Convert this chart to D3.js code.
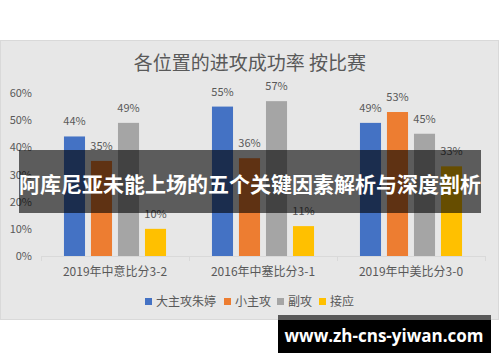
<!DOCTYPE html>
<html>
<head>
<meta charset="utf-8">
<script src="https://cdn.jsdelivr.net/npm/d3@7"></script>
<style>
body { margin: 0; background: #fff; }
svg text { font-family: "Noto Sans CJK SC", "Noto Sans", sans-serif; }
</style>
</head>
<body>
<div id="chart"></div>
<script>
var title = "各位置的进攻成功率 按比赛";
var matches = ["2019年中意比分3-2", "2016年中塞比分3-1", "2019年中美比分3-0"];
var positions = ["大主攻朱婷", "小主攻", "副攻", "接应"];
var colors = ["#4472c4", "#ed7d31", "#a5a5a5", "#ffc000"];
// one array per position, one value per match
var mainHitter = [0.44, 0.55, 0.49];
var sideHitter = [0.35, 0.36, 0.53];
var middle = [0.49, 0.57, 0.45];
var opposite = [0.10, 0.11, 0.33];
var yTicks = [0, 0.1, 0.2, 0.3, 0.4, 0.5, 0.6];
var banner = "阿库尼亚未能上场的五个关键因素解析与深度剖析";
var site = "www.zh-cns-yiwan.com";

var series = [mainHitter, sideHitter, middle, opposite];
var W = 500, H = 362;

var svg = d3.select("#chart").append("svg")
    .attr("width", W).attr("height", H);

// chart panel
svg.append("rect")
    .attr("x", 0.5).attr("y", 40.5)
    .attr("width", 498).attr("height", 279)
    .attr("fill", "#e7e7e7")
    .attr("stroke", "#d9d9d9");

svg.append("text")
    .attr("x", 250).attr("y", 63)
    .attr("dy", "0.35em")
    .attr("text-anchor", "middle")
    .attr("font-size", 19)
    .attr("fill", "#595959")
    .text(title);

var x0 = d3.scaleBand().domain(matches).range([41, 485]);
var x1 = d3.scaleBand().domain(d3.range(positions.length))
    .range([0, x0.bandwidth()])
    .paddingInner(0.22).paddingOuter(0.85);
var y = d3.scaleLinear().domain([0, 0.6]).range([256, 93]);

// y axis labels
var yAxis = d3.axisLeft(y).tickValues(yTicks).tickFormat(d3.format(".0%")).tickSize(0).tickPadding(0);
var gy = svg.append("g").attr("transform", "translate(32,0)").call(yAxis);
gy.select(".domain").remove();
gy.selectAll("text").attr("font-size", 11).attr("fill", "#595959")
    .style("font-family", "\"Noto Sans CJK SC\", sans-serif");

// bars
var groups = svg.selectAll("g.match").data(matches).enter().append("g")
    .attr("class", "match")
    .attr("transform", function(d){ return "translate(" + x0(d) + ",0)"; });

groups.each(function(m, mi){
    var g = d3.select(this);
    var rows = series.map(function(s, si){ return {si: si, v: s[mi]}; });
    g.selectAll("rect").data(rows).enter().append("rect")
        .attr("x", function(d){ return x1(d.si); })
        .attr("y", function(d){ return y(d.v); })
        .attr("width", x1.bandwidth())
        .attr("height", function(d){ return y(0) - y(d.v); })
        .attr("fill", function(d){ return colors[d.si]; });
    g.selectAll("text").data(rows).enter().append("text")
        .attr("x", function(d){ return x1(d.si) + x1.bandwidth() / 2; })
        .attr("y", function(d){ return y(d.v) - 11; })
        .attr("text-anchor", "middle")
        .attr("font-size", 11)
        .attr("fill", "#595959")
        .text(function(d){ return d3.format(".0%")(d.v); });
});

// x axis
var xAxis = d3.axisBottom(x0).tickSize(0).tickPadding(11);
var gx = svg.append("g").attr("transform", "translate(0,256)").call(xAxis);
gx.select(".domain").attr("stroke", "#d9d9d9");
gx.selectAll("text").attr("font-size", 12).attr("fill", "#595959")
    .style("font-family", "\"Noto Sans CJK SC\", sans-serif");
var bounds = matches.map(function(d){ return x0(d); }).concat([x0.range()[1]]);
gx.selectAll("line.sep").data(bounds).enter().append("line")
    .attr("class", "sep")
    .attr("x1", function(d){ return Math.round(d) + 0.5; })
    .attr("x2", function(d){ return Math.round(d) + 0.5; })
    .attr("y1", 0).attr("y2", 5)
    .attr("stroke", "#d9d9d9");

// legend
var legendX = [145, 224, 277, 319];
var lg = svg.selectAll("g.legend").data(positions).enter().append("g")
    .attr("class", "legend")
    .attr("transform", function(d, i){ return "translate(" + legendX[i] + ",298)"; });
lg.append("rect").attr("width", 7).attr("height", 7)
    .attr("fill", function(d, i){ return colors[i]; });
lg.append("text").attr("x", 11).attr("y", 3.5).attr("dy", "0.35em")
    .attr("font-size", 12).attr("fill", "#595959")
    .text(function(d){ return d; });

// overlay banner
svg.append("rect")
    .attr("x", 19).attr("y", 150)
    .attr("width", 462).attr("height", 63)
    .attr("fill", "rgba(0,0,0,0.6)");
svg.append("text")
    .attr("x", 250).attr("y", 185)
    .attr("dy", "0.35em")
    .attr("text-anchor", "middle")
    .attr("font-size", 21)
    .attr("font-weight", "bold")
    .attr("fill", "#fff")
    .text(banner);

// watermark
svg.append("rect")
    .attr("x", 278).attr("y", 315)
    .attr("width", 213).attr("height", 5)
    .attr("fill", "#5a5a5a");
svg.append("rect")
    .attr("x", 278).attr("y", 320)
    .attr("width", 213).attr("height", 33)
    .attr("fill", "#000");
svg.append("text")
    .attr("x", 384).attr("y", 336)
    .attr("dy", "0.35em")
    .attr("text-anchor", "middle")
    .attr("font-size", 17)
    .attr("font-weight", "bold")
    .attr("fill", "#fff")
    .style("font-family", "\"Open Sans\", \"Noto Sans\", sans-serif")
    .text(site);
</script>
</body>
</html>
